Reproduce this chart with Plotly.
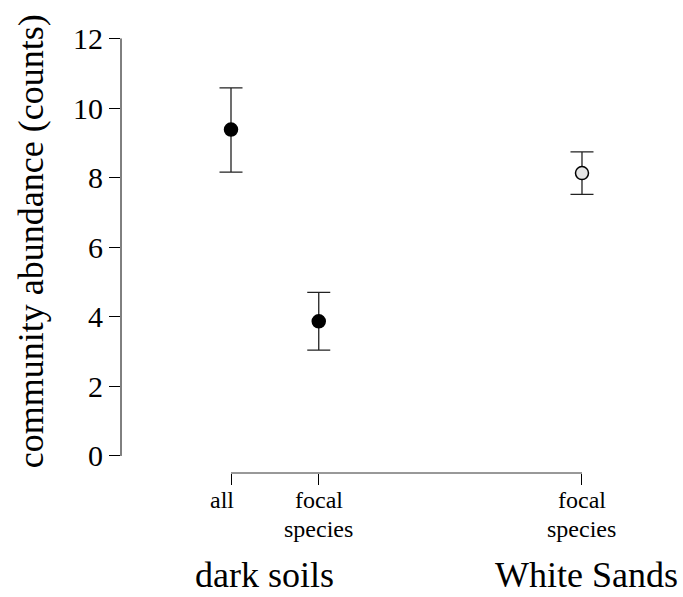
import plotly.graph_objects as go

# ---- data ----
categories = ["all", "focal<br>species", "focal<br>species"]
groups = ["dark soils", "dark soils", "White Sands"]
x_pos = [1, 2, 5]
means = [9.38, 3.87, 8.13]
upper = [10.58, 4.70, 8.74]
lower = [8.16, 3.04, 7.52]
marker_fill = ["black", "black", "#e6e6e6"]
y_ticks = [0, 2, 4, 6, 8, 10, 12]
group_labels = ["dark soils", "White Sands"]
group_centers = [1.38, 5.05]

FONT = "Liberation Serif, Times New Roman, serif"

err_plus = [u - m for u, m in zip(upper, means)]
err_minus = [m - l for m, l in zip(means, lower)]

fig = go.Figure()
fig.add_trace(go.Scatter(
    x=x_pos, y=means, mode="markers",
    marker=dict(size=13, color=marker_fill, line=dict(color="black", width=1.5)),
    error_y=dict(type="data", array=err_plus, arrayminus=err_minus,
                 color="#222", thickness=1.3, width=11.5),
    showlegend=False, hoverinfo="skip",
))

annotations = []
# x tick labels (one annotation per line for tighter line spacing)
shifts = [-9, 0, 0]
for xp, lab, sh in zip(x_pos, categories, shifts):
    for i, line in enumerate(lab.split("<br>")):
        annotations.append(dict(
            x=xp, xref="x", y=0, yref="paper", yanchor="middle",
            yshift=-27 - 29 * i, xshift=sh,
            text=line, showarrow=False, font=dict(family=FONT, size=24, color="black"),
        ))
# group labels
for gx, gl in zip(group_centers, group_labels):
    annotations.append(dict(
        x=gx, xref="x", y=-0.229, yref="paper", yanchor="middle",
        text=gl, showarrow=False, font=dict(family=FONT, size=36, color="black"),
    ))
# y title
annotations.append(dict(
    x=0, xref="paper", xshift=-90, xanchor="center",
    y=0.521, yref="paper", yanchor="middle",
    text="community abundance (counts)", textangle=-90, showarrow=False,
    font=dict(family=FONT, size=36, color="black"),
))

shapes = [
    dict(type="line", xref="paper", x0=0, x1=0, yref="y",
         y0=min(y_ticks), y1=max(y_ticks), line=dict(color="black", width=1)),
    dict(type="line", xref="x", x0=min(x_pos), x1=max(x_pos), yref="paper",
         y0=0, y1=0, line=dict(color="#333", width=1)),
]

fig.update_layout(
    width=683, height=597,
    margin=dict(l=121, r=23, t=28, b=124),
    paper_bgcolor="white", plot_bgcolor="white",
    xaxis=dict(range=[-0.2536, 5.889], showgrid=False, zeroline=False, showline=False,
               tickvals=x_pos, ticks="outside", ticklen=11, tickwidth=1, tickcolor="black",
               showticklabels=False),
    yaxis=dict(range=[-0.49, 12.3], showgrid=False, zeroline=False, showline=False,
               tickvals=y_ticks, ticks="outside", ticklen=11, tickwidth=1, tickcolor="black",
               tickfont=dict(family=FONT, size=30, color="black")),
    annotations=annotations,
    shapes=shapes,
)

fig.write_html("out.html")
